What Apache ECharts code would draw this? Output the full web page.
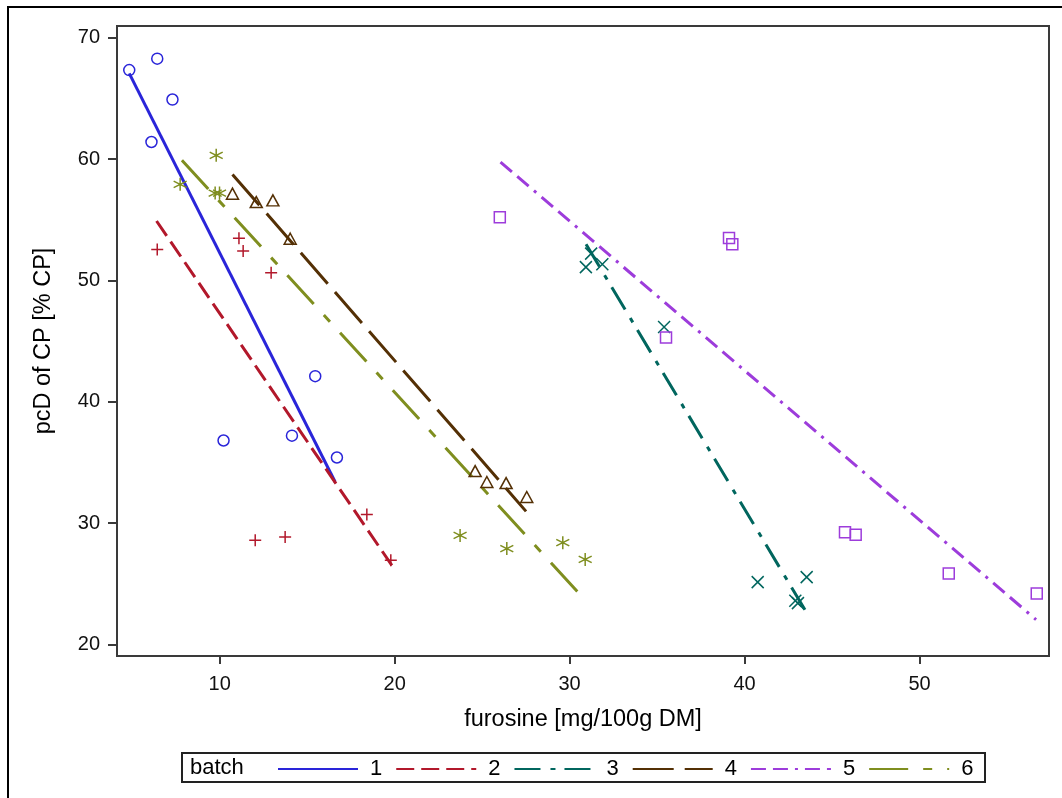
<!DOCTYPE html>
<html>
<head>
<meta charset="utf-8">
<script src="https://cdn.jsdelivr.net/npm/echarts@6/dist/echarts.min.js"></script>
<style>
html,body{margin:0;padding:0;background:#fff;}
#chart{width:1062px;height:798px;}
</style>
</head>
<body>
<div id="chart"></div>
<script>
// ---- data ----
const batchNames = ['1', '2', '3', '4', '5', '6'];
const xTicks = [10, 20, 30, 40, 50];
const yTicks = [20, 30, 40, 50, 60, 70];

const b1x = [4.83, 6.43, 7.30, 6.10, 15.46, 10.22, 14.13, 16.70];
const b1y = [67.33, 68.27, 64.9, 61.4, 42.1, 36.8, 37.2, 35.4];
const fit1x = [4.83, 16.6];
const fit1y = [67.06, 33.38];

const b2x = [6.43, 11.1, 11.34, 12.94, 12.03, 13.74, 18.41, 19.78];
const b2y = [52.55, 53.46, 52.41, 50.63, 28.57, 28.84, 30.71, 26.93];
const fit2x = [6.39, 19.84];
const fit2y = [54.89, 26.51];

const b3x = [30.93, 31.23, 31.87, 35.4, 40.75, 43.55, 42.9, 43.05];
const b3y = [51.09, 52.2, 51.32, 46.15, 25.13, 25.54, 23.6, 23.4];
const fit3x = [30.94, 43.55];
const fit3y = [52.97, 22.61];

const b4x = [10.73, 12.09, 13.04, 14.03, 24.6, 25.27, 26.37, 27.55];
const b4y = [57.14, 56.45, 56.59, 53.43, 34.28, 33.38, 33.29, 32.14];
const fit4x = [10.73, 27.51];
const fit4y = [58.73, 30.96];

const b5x = [26.01, 35.51, 39.11, 39.3, 45.74, 46.35, 51.67, 56.7];
const b5y = [55.19, 45.28, 53.48, 52.97, 29.23, 29.04, 25.83, 24.2];
const fit5x = [26.05, 56.66];
const fit5y = [59.75, 22.04];

const b6x = [9.8, 7.74, 9.74, 9.99, 23.74, 26.41, 29.61, 30.89];
const b6y = [60.3, 57.91, 57.19, 57.19, 28.98, 27.89, 28.38, 27.0];
const fit6x = [7.84, 30.85];
const fit6y = [59.89, 23.71];

// ---- styling ----
const colors = ['#2A25D9', '#B2182B', '#01665E', '#543005', '#9D3CDB', '#7F8E1F'];
const dashes = ['solid', [18, 7], [26, 10, 5, 9], [41, 11], [15, 7, 15, 7, 3, 7], [39, 15, 9, 15]];
const symbols = [
  'circle',
  'path://M0,5 L10,5 M5,0 L5,10',
  'path://M0,0 L10,10 M10,0 L0,10',
  'triangle',
  'rect',
  'path://M5,0 L5,10 M0.67,2.5 L9.33,7.5 M0.67,7.5 L9.33,2.5'
];
const symSizes = [11, 12, 12, [12, 11], 11, 13];

const pts = [[b1x, b1y], [b2x, b2y], [b3x, b3y], [b4x, b4y], [b5x, b5y], [b6x, b6y]];
const fits = [[fit1x, fit1y], [fit2x, fit2y], [fit3x, fit3y], [fit4x, fit4y], [fit5x, fit5y], [fit6x, fit6y]];
const zip = (xs, ys) => xs.map((v, i) => [v, ys[i]]);

const FONT = '"Liberation Sans", Arial, sans-serif';
const series = [];
batchNames.forEach((n, i) => {
  series.push({
    name: n, type: 'line', data: zip(fits[i][0], fits[i][1]),
    symbol: 'none', silent: true, z: 2,
    lineStyle: { color: colors[i], width: 3, type: dashes[i], cap: 'butt' },
    itemStyle: { color: 'rgba(0,0,0,0)', borderWidth: 0 }
  });
});
batchNames.forEach((n, i) => {
  series.push({
    name: n, type: 'scatter', data: zip(pts[i][0], pts[i][1]),
    symbol: symbols[i], symbolSize: symSizes[i], z: 3,
    itemStyle: { color: 'rgba(0,0,0,0)', borderColor: colors[i], borderWidth: 1.5, opacity: 1 }
  });
});

const chart = echarts.init(document.getElementById('chart'), null, { renderer: 'canvas' });
chart.setOption({
  animation: false,
  backgroundColor: '#fff',
  textStyle: { fontFamily: FONT },
  grid: { left: 117, top: 26, width: 932, height: 630, show: true, borderColor: '#3a3a3a', borderWidth: 2, backgroundColor: 'transparent' },
  xAxis: {
    type: 'value', min: 4.13, max: 57.4,
    name: 'furosine [mg/100g DM]', nameLocation: 'middle', nameGap: 52,
    nameTextStyle: { fontSize: 23.5, color: '#000', fontFamily: FONT },
    axisLine: { show: true, lineStyle: { color: '#3a3a3a', width: 2 } },
    axisTick: { show: true, length: 8, lineStyle: { color: '#3a3a3a', width: 2 }, customValues: xTicks },
    axisLabel: { fontSize: 20, color: '#111', margin: 18, fontFamily: FONT, customValues: xTicks },
    splitLine: { show: false }
  },
  yAxis: {
    type: 'value', min: 19.04, max: 70.96,
    name: 'pcD of CP [% CP]', nameLocation: 'middle', nameGap: 61,
    nameTextStyle: { fontSize: 23.5, color: '#000', fontFamily: FONT },
    axisLine: { show: true, lineStyle: { color: '#3a3a3a', width: 2 } },
    axisTick: { show: true, length: 9, lineStyle: { color: '#3a3a3a', width: 2 }, customValues: yTicks },
    axisLabel: { fontSize: 20, color: '#111', margin: 17, fontFamily: FONT, customValues: yTicks },
    splitLine: { show: false }
  },
  legend: {
    data: batchNames,
    left: 277, top: 758, padding: 0,
    itemWidth: 80, itemHeight: 20, itemGap: 13,
    itemStyle: { color: 'rgba(0,0,0,0)', borderWidth: 0 },
    textStyle: { fontSize: 22, color: '#000', fontFamily: FONT, padding: [0, 0, 0, 7] },
    selectedMode: false
  },
  graphic: [
    { type: 'rect', shape: { x: 8, y: 7, width: 1100, height: 850 }, style: { fill: 'none', stroke: '#000', lineWidth: 2 }, silent: true },
    { type: 'rect', shape: { x: 182, y: 753, width: 803, height: 29 }, style: { fill: 'none', stroke: '#222', lineWidth: 2 }, silent: true },
    { type: 'text', x: 190, y: 768, style: { text: 'batch', font: '22px ' + FONT, fill: '#000', verticalAlign: 'middle' }, silent: true }
  ],
  series: series
});
</script>
</body>
</html>
